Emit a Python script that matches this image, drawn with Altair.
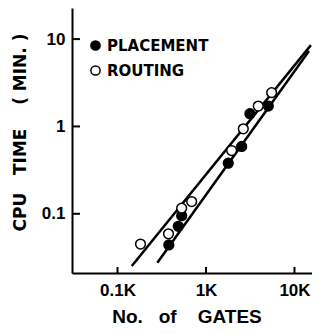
import altair as alt
import pandas as pd

# Measured points (gates, CPU minutes)
placement_gates = [380, 486, 531, 1786, 2530, 3140, 5060]
placement_time = [0.044, 0.072, 0.095, 0.38, 0.59, 1.40, 1.71]
routing_gates = [182, 377, 531, 689, 1950, 2640, 3900, 5520]
routing_time = [0.045, 0.059, 0.116, 0.138, 0.53, 0.94, 1.71, 2.44]

# Fitted lines (end points)
placement_fit_gates = [282, 14590]
placement_fit_time = [0.0275, 7.32]
routing_fit_gates = [145, 15350]
routing_fit_time = [0.0252, 8.53]

series_names = ["PLACEMENT", "ROUTING"]
series_fill = ["black", "white"]

x_tick_values = [100, 1000, 10000]
x_tick_labels = ["0.1K", "1K", "10K"]
y_tick_values = [0.1, 1, 10]
y_tick_labels = ["0.1", "1", "10"]

x_domain = [30.6, 15780]
y_domain = [0.021, 22.7]

NB = "\u00a0"
x_title = "No." + NB * 3 + "of" + NB * 4 + "GATES"
y_title = "CPU" + NB * 3 + "TIME" + NB * 4 + "(" + NB + "MIN." + NB + ")"


def label_expr(values, labels):
    parts = [f"datum.value == {v} ? '{l}'" for v, l in zip(values, labels)]
    return " : ".join(parts) + " : ''"


points = pd.DataFrame({
    "gates": placement_gates + routing_gates,
    "time": placement_time + routing_time,
    "series": [series_names[0]] * len(placement_gates) + [series_names[1]] * len(routing_gates),
})
fits = pd.DataFrame({
    "gates": placement_fit_gates + routing_fit_gates,
    "time": placement_fit_time + routing_fit_time,
    "series": [series_names[0]] * 2 + [series_names[1]] * 2,
})

xscale = alt.Scale(type="log", domain=x_domain, nice=False)
yscale = alt.Scale(type="log", domain=y_domain, nice=False)

x_enc = alt.X(
    "gates:Q", scale=xscale,
    axis=alt.Axis(
        values=x_tick_values, labelExpr=label_expr(x_tick_values, x_tick_labels),
        ticks=False, grid=False, domainColor="black", domainWidth=2,
        labelFont="Liberation Sans", labelFontWeight="bold", labelFontSize=17,
        labelColor="black", labelPadding=9, labelFlush=False,
        title=x_title, titleFont="Liberation Sans", titleFontWeight="bold",
        titleFontSize=19, titleColor="black", titleX=114.5, titleY=49,
        titleAlign="center", titleBaseline="alphabetic",
    ),
)
y_enc = alt.Y(
    "time:Q", scale=yscale,
    axis=alt.Axis(
        values=y_tick_values, labelExpr=label_expr(y_tick_values, y_tick_labels),
        ticks=False, grid=False, domainColor="black", domainWidth=2,
        labelFont="Liberation Sans", labelFontWeight="bold", labelFontSize=17,
        labelColor="black", labelPadding=7, labelFlush=False,
        title=y_title, titleFont="DejaVu Sans", titleFontWeight="bold",
        titleFontSize=17, titleColor="black", titleAngle=270,
        titleX=-52, titleY=124, titleAlign="center", titleBaseline="middle",
    ),
)

lines = alt.Chart(fits).mark_line(color="black", strokeWidth=2.5).encode(
    x=x_enc, y=y_enc, detail="series:N"
)

dots = alt.Chart(points).mark_point(
    shape="circle", filled=True, stroke="black", strokeWidth=1.5, size=95, opacity=1
).encode(
    x=x_enc, y=y_enc,
    fill=alt.Fill(
        "series:N",
        scale=alt.Scale(domain=series_names, range=series_fill),
        legend=alt.Legend(
            title=None, orient="none", legendX=16, legendY=30, padding=0,
            symbolType="circle", symbolSize=85, symbolStrokeColor="black",
            symbolStrokeWidth=1.5, labelFont="DejaVu Sans", labelFontWeight="bold",
            labelFontSize=15, labelColor="black", labelOffset=4, rowPadding=8,
        ),
    ),
)

ytick = alt.Chart(pd.DataFrame({"time": y_tick_values})).mark_rule(
    color="black", strokeWidth=2
).encode(y=y_enc, x=alt.value(0), x2=alt.value(8))

xtick = alt.Chart(pd.DataFrame({"gates": x_tick_values})).mark_rule(
    color="black", strokeWidth=2
).encode(x=x_enc, y=alt.value(265), y2=alt.value(259))

chart = alt.layer(lines, ytick, xtick, dots).properties(
    width=240, height=265,
    autosize=alt.AutoSizeParams(type="none"),
    padding={"left": 64, "top": 0, "right": 0, "bottom": 53},
    background="white",
).configure_view(stroke="transparent")

chart.save("out.html", embed_options={"renderer": "svg", "actions": False})
